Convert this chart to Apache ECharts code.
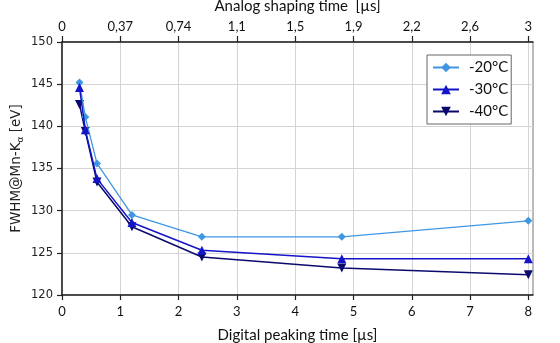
<!DOCTYPE html>
<html>
<head>
<meta charset="utf-8">
<script src="https://cdn.jsdelivr.net/npm/echarts@6/dist/echarts.min.js"></script>
<style>html,body{margin:0;padding:0;background:#fff}#c{width:560px;height:343px}</style>
</head>
<body>
<div id="c"></div>
<script>
const peakingTimes = [0.3, 0.4, 0.6, 1.2, 2.4, 4.8, 8];
const fwhm20 = [145.2, 141.1, 135.6, 129.5, 126.9, 126.9, 128.8];
const fwhm30 = [144.6, 139.6, 133.8, 128.6, 125.3, 124.3, 124.3];
const fwhm40 = [142.6, 139.4, 133.4, 128.1, 124.5, 123.2, 122.4];
const seriesNames = ['-20°C', '-30°C', '-40°C'];
const bottomTicks = [0, 1, 2, 3, 4, 5, 6, 7, 8];
const topTickLabels = ['0', '0,37', '0,74', '1,1', '1,5', '1,9', '2,2', '2,6', '3'];

const pairs = ys => peakingTimes.map((x, i) => [x, ys[i]]);
const calib = 'Lato, "Open Sans", sans-serif';
const sansV = '"DejaVu Sans", Verdana, sans-serif';

const chart = echarts.init(document.getElementById('c'), null, {renderer: 'canvas'});
chart.setOption({
  animation: false,
  backgroundColor: '#fff',
  grid: {left: 62, right: 27, top: 42, bottom: 48, containLabel: false, outerBoundsMode: 'none',
    show: true, borderColor: '#777', borderWidth: 1, backgroundColor: 'transparent'},
  legend: {
    orient: 'vertical', left: 427, top: 55,
    data: seriesNames,
    backgroundColor: '#fff', borderColor: '#666', borderWidth: 1, borderRadius: 0,
    padding: [5, 3, 5, 5], itemWidth: 26, itemHeight: 12, itemGap: 7,
    textStyle: {fontFamily: calib, fontSize: 15, color: '#111', padding: [0, 0, 0, 5]}
  },
  xAxis: [{
    type: 'value', min: 0, max: 8.08, interval: 1, position: 'bottom',
    name: 'Digital peaking time [µs]', nameLocation: 'middle', nameGap: 33,
    nameTextStyle: {fontFamily: calib, fontSize: 15, color: '#111'},
    axisLine: {show: true, onZero: false, lineStyle: {color: '#222', width: 1.5}},
    axisTick: {show: true, length: 5, customValues: bottomTicks, lineStyle: {color: '#222', width: 1.2}},
    axisLabel: {customValues: bottomTicks, fontFamily: calib, fontSize: 13, color: '#111', margin: 10},
    splitLine: {show: true, lineStyle: {color: '#d4d4d4', width: 1}}
  }, {
    type: 'value', min: 0, max: 8.08, interval: 1, position: 'top',
    name: 'Analog shaping time  [µs]', nameLocation: 'middle', nameGap: 28,
    nameTextStyle: {fontFamily: calib, fontSize: 15, color: '#111'},
    axisLine: {show: true, onZero: false, lineStyle: {color: '#222', width: 1.5}},
    axisTick: {show: true, length: 6, customValues: bottomTicks, lineStyle: {color: '#222', width: 1.2}},
    axisLabel: {customValues: bottomTicks, fontFamily: calib, fontSize: 13, color: '#111', margin: 9,
      formatter: v => topTickLabels[Math.round(v)]},
    splitLine: {show: false}
  }],
  yAxis: {
    type: 'value', min: 120, max: 150, interval: 5,
    name: '{m|FWHM@Mn-K}{s|α}{m| [eV]}', nameLocation: 'middle', nameGap: 37, nameRotate: 90,
    nameMoveOverlap: false,
    nameTextStyle: {rich: {
      m: {fontFamily: sansV, fontSize: 13.5, color: '#222'},
      s: {fontFamily: sansV, fontSize: 9, color: '#222', padding: [8, 0, 0, 0]}
    }},
    axisLine: {show: true, lineStyle: {color: '#222', width: 1.5}},
    axisTick: {show: true, length: 5, lineStyle: {color: '#222', width: 1.2}},
    axisLabel: {fontFamily: sansV, fontSize: 11.5, color: '#222', margin: 9},
    splitLine: {show: true, lineStyle: {color: '#d4d4d4', width: 1}}
  },
  series: [{
    name: seriesNames[0], type: 'line', data: pairs(fwhm20),
    symbol: 'diamond', symbolSize: 8,
    itemStyle: {color: '#3f97e3'}, lineStyle: {color: '#3f97e3', width: 1.3}, z: 3
  }, {
    name: seriesNames[1], type: 'line', data: pairs(fwhm30),
    symbol: 'triangle', symbolSize: 9,
    itemStyle: {color: '#1414c8'}, lineStyle: {color: '#1414c8', width: 1.5}, z: 4
  }, {
    name: seriesNames[2], type: 'line', data: pairs(fwhm40),
    symbol: 'triangle', symbolRotate: 180, symbolSize: 9,
    itemStyle: {color: '#0a0a6e'}, lineStyle: {color: '#0a0a6e', width: 1.5}, z: 2
  }]
});
</script>
</body>
</html>
